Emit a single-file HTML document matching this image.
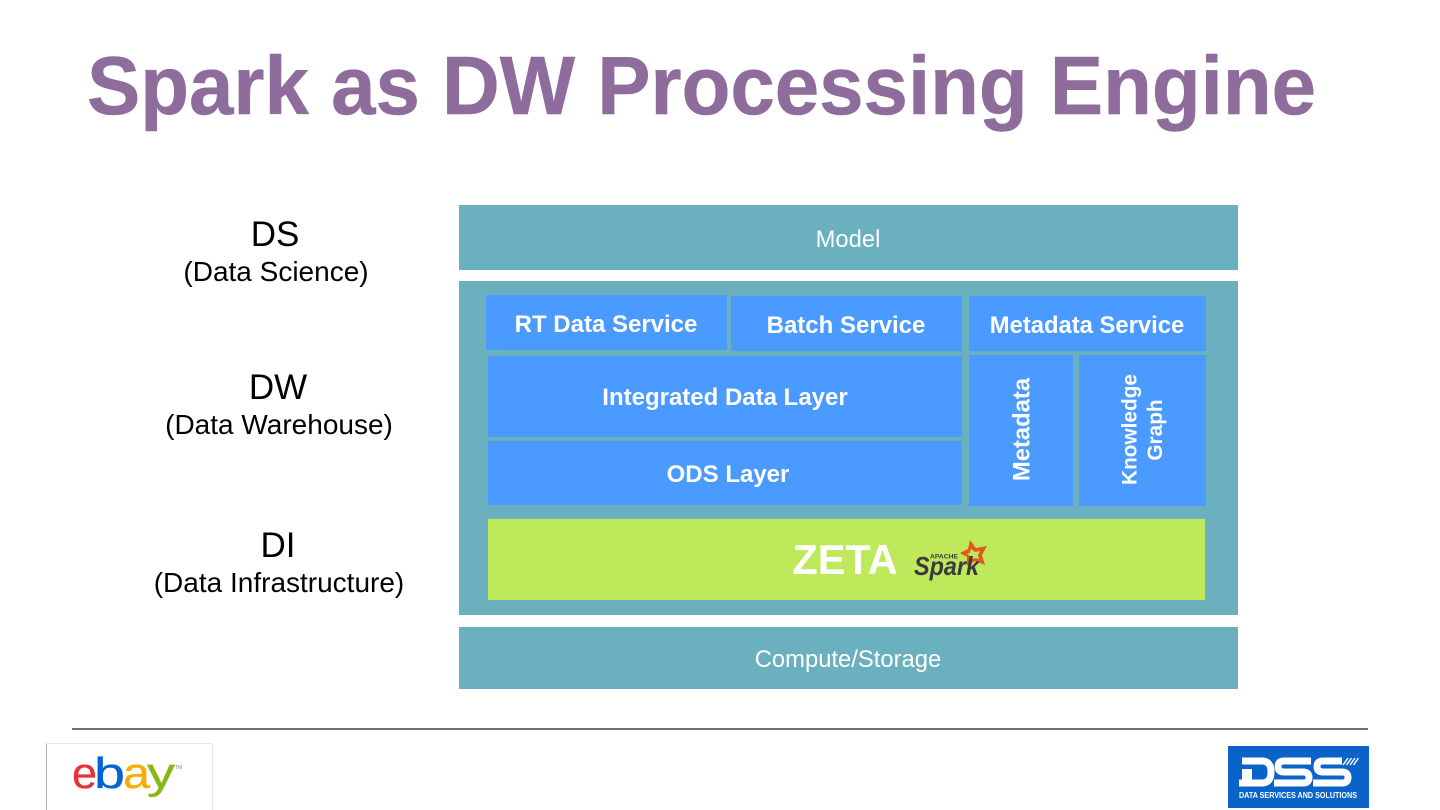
<!DOCTYPE html>
<html><head><meta charset="utf-8">
<style>
html,body{margin:0;padding:0;background:#fff;width:1440px;height:810px;overflow:hidden}
svg{display:block}
text{font-family:"Liberation Sans",Arial,sans-serif}
</style></head>
<body>
<svg width="1440" height="810" viewBox="0 0 1440 810" xmlns="http://www.w3.org/2000/svg">
<rect width="1440" height="810" fill="#fff"/>
<text x="87" y="114" font-size="83" font-weight="700" fill="#8e6c9c" stroke="#8e6c9c" stroke-width="0.5" textLength="1229" lengthAdjust="spacingAndGlyphs">Spark as DW Processing Engine</text>

<g text-anchor="middle" fill="#000">
<text x="275" y="246" font-size="35">DS</text>
<text x="276" y="281" font-size="28">(Data Science)</text>
<text x="278" y="399" font-size="35">DW</text>
<text x="279" y="434" font-size="28">(Data Warehouse)</text>
<text x="278" y="557" font-size="35">DI</text>
<text x="279" y="592" font-size="28">(Data Infrastructure)</text>
</g>

<rect x="459" y="205" width="779" height="65" fill="#6bb0bf"/>
<rect x="459" y="281" width="779" height="334" fill="#6bb0bf"/>
<rect x="459" y="627" width="779" height="62" fill="#6bb0bf"/>
<g text-anchor="middle" fill="#fff" font-size="23.8">
<text x="848" y="247">Model</text>
<text x="848" y="667">Compute/Storage</text>
</g>

<g fill="#4a9aff">
<rect x="486" y="295" width="241" height="55"/>
<rect x="731" y="296" width="231" height="55"/>
<rect x="969" y="296" width="237" height="55"/>
<rect x="488" y="356" width="474" height="81"/>
<rect x="488" y="441" width="474" height="64"/>
<rect x="969" y="355" width="104" height="151"/>
<rect x="1079" y="355" width="127" height="151"/>
</g>
<rect x="488" y="519" width="717" height="81" fill="#bee95a"/>

<g text-anchor="middle" fill="#fff" font-weight="700" font-size="24">
<text x="606" y="332">RT Data Service</text>
<text x="846" y="333">Batch Service</text>
<text x="1087" y="333" font-size="23.8">Metadata Service</text>
<text x="725" y="405">Integrated Data Layer</text>
<text x="728" y="482">ODS Layer</text>
<text transform="translate(1029.5,429.5) rotate(-90)" font-size="23.8">Metadata</text>
<text transform="translate(1136.5,429.5) rotate(-90)" font-size="20.8">Knowledge</text>
<text transform="translate(1162,430) rotate(-90)" font-size="20.8">Graph</text>
<text x="845" y="574" font-size="41.5">ZETA</text>
</g>

<!-- Spark logo -->
<path fill-rule="evenodd" fill="#e25a1c" d="M970 540 L976 548 L987 546 L982 555 L985 565 L975 561 L967 566 L967 557 L960 553 L968 549 Z M971 549 L970 553 L967 554 L970 556 L970 560 L975 558 L979 559 L978 555 L980 551 L975 552 Z"/>
<text x="914" y="575" font-size="26" font-weight="700" font-style="italic" fill="#3c3a3e" textLength="65" lengthAdjust="spacingAndGlyphs">Spark</text>
<text x="930" y="558.5" font-size="6.5" font-weight="700" fill="#3c3a3e" textLength="28" lengthAdjust="spacingAndGlyphs">APACHE</text>

<rect x="72" y="728" width="1296" height="2" fill="#7a6f6a"/>

<!-- ebay logo box -->
<path d="M46.5 810 V743.5 H212.5 V810" fill="none" stroke="#e8e8e8"/>
<line x1="46.5" y1="744" x2="46.5" y2="810" stroke="#b5b5b5"/>
<g font-size="44" stroke-width="0.3">
<text x="72" y="788" fill="#e53238" stroke="#e53238" textLength="25" lengthAdjust="spacingAndGlyphs">e</text>
<text x="94" y="788" fill="#0064d2" stroke="#0064d2" textLength="31" lengthAdjust="spacingAndGlyphs">b</text>
<text x="123" y="788" fill="#f5af02" stroke="#f5af02" textLength="27" lengthAdjust="spacingAndGlyphs">a</text>
<text x="147" y="788" fill="#86b817" stroke="#86b817" textLength="28" lengthAdjust="spacingAndGlyphs">y</text>
</g>
<text x="175" y="769" font-size="5" fill="#888">TM</text>

<!-- DSS logo -->
<rect x="1228" y="746" width="141" height="62" fill="#0a63c9"/>
<g fill="none" stroke="#fff" stroke-width="7">
<path d="M1242 761 H1262 Q1271 761 1271 772 Q1271 783 1262 783 H1239"/>
<path d="M1311 761 H1284 Q1278 761 1278 766.5 Q1278 772 1284 772 H1303 Q1309 772 1309 777.5 Q1309 783 1303 783 H1274"/>
<path d="M1342 761 H1323 Q1317 761 1317 766.5 Q1317 772 1323 772 H1342 Q1348 772 1348 777.5 Q1348 783 1342 783 H1313"/>
</g>
<rect x="1242" y="769" width="10" height="17" fill="#fff"/>
<g stroke="#fff" stroke-width="1.4">
<line x1="1343" y1="765" x2="1348" y2="758"/>
<line x1="1346.5" y1="765" x2="1351.5" y2="758"/>
<line x1="1350" y1="765" x2="1355" y2="758"/>
<line x1="1353.5" y1="765" x2="1358.5" y2="758"/>
</g>
<text x="1298" y="798" font-size="8" font-weight="700" fill="#fff" text-anchor="middle" textLength="118" lengthAdjust="spacingAndGlyphs">DATA SERVICES AND SOLUTIONS</text>
</svg>
</body></html>
